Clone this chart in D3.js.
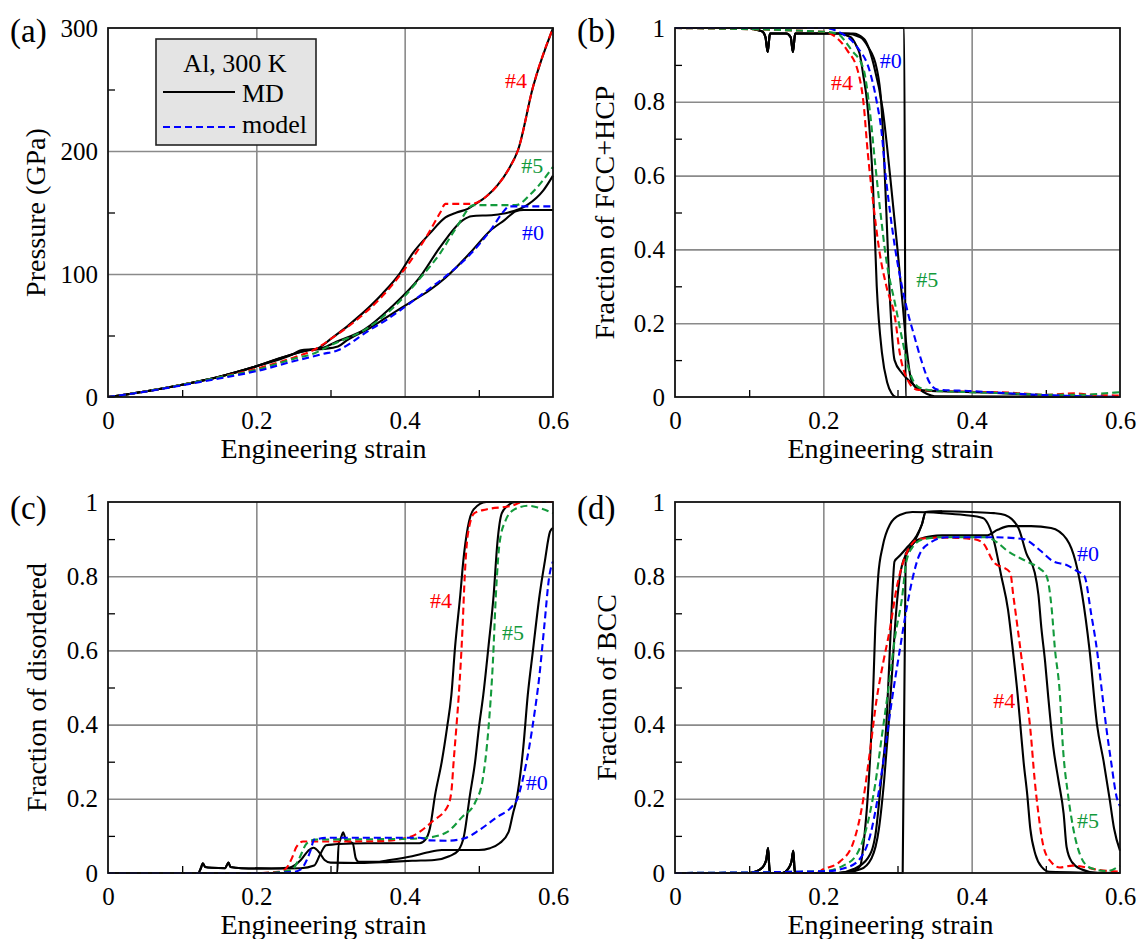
<!DOCTYPE html>
<html><head><meta charset="utf-8">
<script src="https://cdn.jsdelivr.net/npm/d3@7"></script>
<style>
body{margin:0;background:#fff}
svg{display:block}
text{font-family:'Liberation Serif','Times New Roman',serif;fill:#000}
</style></head><body>
<svg id="chart" width="1138" height="939" font-family="Liberation Serif, Times New Roman, serif"></svg>
<script>
// ---------- tick values & labels ----------
const strainTicks = [0, 0.2, 0.4, 0.6];
const strainTickLabels = ["0", "0.2", "0.4", "0.6"];
const strainMinor = [0.1, 0.3, 0.5];
const pressureTicks = [0, 100, 200, 300];
const pressureTickLabels = ["0", "100", "200", "300"];
const pressureMinor = [50, 150, 250];
const fracTicks = [0, 0.2, 0.4, 0.6, 0.8, 1];
const fracTickLabels = ["0", "0.2", "0.4", "0.6", "0.8", "1"];
const fracMinor = [0.1, 0.3, 0.5, 0.7, 0.9];

// ---------- (a) pressure ----------
const aMD4 = [[0,0],[0.05,4.5],[0.1,10],[0.15,16.5],[0.2,25],[0.25,35],[0.26,38],[0.28,39],[0.3,47],[0.343,68],[0.37,84],[0.394,101],[0.411,117],[0.434,133],[0.455,146],[0.47,150],[0.485,153],[0.493,156],[0.51,163],[0.525,172],[0.54,185],[0.553,201],[0.573,252],[0.6,300]];
const aModel4 = [[0,0],[0.05,4.5],[0.1,10],[0.15,16],[0.2,23],[0.25,32],[0.28,39],[0.3,47],[0.34,65],[0.37,82],[0.4,104],[0.43,131],[0.448,150],[0.455,157],[0.49,157],[0.51,163],[0.525,172],[0.54,185],[0.553,201],[0.573,252],[0.6,300]];
const aMD5 = [[0,0],[0.05,4.5],[0.1,10],[0.15,16.5],[0.2,25],[0.25,35],[0.27,38],[0.29,40],[0.308,45],[0.346,55],[0.38,72],[0.42,97],[0.448,122],[0.479,144],[0.49,147],[0.52,148],[0.54,150],[0.565,156],[0.587,168],[0.6,180]];
const aModel5 = [[0,0],[0.05,4.5],[0.1,10],[0.15,16],[0.2,22],[0.25,31],[0.28,36],[0.3,42],[0.35,56],[0.4,82],[0.42,96],[0.448,117],[0.47,138],[0.493,156],[0.55,156],[0.57,165],[0.6,187]];
const aMD0 = [[0,0],[0.05,4.5],[0.1,10],[0.15,16.5],[0.2,25],[0.25,35],[0.27,38],[0.29,39],[0.31,41],[0.322,46],[0.35,55],[0.376,65],[0.405,76],[0.434,87],[0.455,97],[0.488,117],[0.515,135],[0.535,144],[0.55,151],[0.56,152],[0.6,152]];
const aModel0 = [[0,0],[0.05,4.3],[0.1,9.5],[0.15,15],[0.2,21],[0.25,29],[0.29,35],[0.31,38],[0.33,45],[0.344,51],[0.376,63],[0.431,87],[0.455,98],[0.49,117],[0.515,135],[0.535,152],[0.54,155],[0.6,155]];

// ---------- (b) fraction FCC+HCP ----------
const bMD4 = [[0,1],[0.1,1],[0.11,0.995],[0.118,0.99],[0.122,0.975],[0.125,0.935],[0.1265,0.96],[0.128,0.985],[0.15,0.985],[0.156,0.975],[0.159,0.935],[0.1605,0.96],[0.162,0.985],[0.22,0.985],[0.237,0.975],[0.245,0.95],[0.249,0.93],[0.254,0.87],[0.259,0.8],[0.267,0.57],[0.272,0.3],[0.279,0.12],[0.286,0.04],[0.292,0.01],[0.298,0],[0.6,0]];
const bMD5 = [[0,1],[0.1,1],[0.11,0.995],[0.118,0.99],[0.122,0.975],[0.125,0.935],[0.1265,0.96],[0.128,0.985],[0.15,0.985],[0.156,0.975],[0.159,0.935],[0.1605,0.96],[0.162,0.985],[0.23,0.985],[0.25,0.975],[0.26,0.95],[0.272,0.89],[0.278,0.8],[0.285,0.5],[0.289,0.3],[0.296,0.1],[0.306,0.065],[0.318,0.04],[0.33,0.02],[0.34,0.008],[0.35,0.002],[0.6,0]];
const bMD0 = [[0,1],[0.1,1],[0.11,0.995],[0.118,0.99],[0.122,0.975],[0.125,0.935],[0.1265,0.96],[0.128,0.985],[0.15,0.985],[0.156,0.975],[0.159,0.935],[0.1605,0.96],[0.162,0.985],[0.24,0.985],[0.255,0.97],[0.268,0.9],[0.28,0.78],[0.29,0.6],[0.3,0.4],[0.307,0.25],[0.313,0.12],[0.318,0.05],[0.325,0.025],[0.335,0.018],[0.37,0.015],[0.42,0.012],[0.46,0.008],[0.5,0.004],[0.55,0.001],[0.6,0]];
const bMDp = [[0,1],[0.309,1],[0.311,0],[0.6,0]];
const bModel4 = [[0,1],[0.2,0.99],[0.209,0.985],[0.232,0.94],[0.247,0.88],[0.254,0.8],[0.26,0.66],[0.267,0.53],[0.276,0.39],[0.285,0.3],[0.297,0.21],[0.303,0.12],[0.314,0.045],[0.326,0.02],[0.35,0.017],[0.4,0.014],[0.45,0.012],[0.5,0.006],[0.54,0.01],[0.56,0.006],[0.6,0.004]];
const bModel5 = [[0,1],[0.2,0.99],[0.218,0.985],[0.238,0.94],[0.254,0.89],[0.263,0.77],[0.27,0.63],[0.277,0.5],[0.285,0.37],[0.297,0.25],[0.307,0.15],[0.316,0.07],[0.33,0.025],[0.35,0.017],[0.4,0.013],[0.45,0.01],[0.5,0.006],[0.55,0.006],[0.58,0.01],[0.6,0.013]];
const bModel0 = [[0,1],[0.2,1],[0.225,0.985],[0.245,0.95],[0.263,0.88],[0.272,0.8],[0.279,0.71],[0.283,0.62],[0.29,0.5],[0.297,0.4],[0.306,0.3],[0.315,0.22],[0.322,0.17],[0.332,0.1],[0.343,0.04],[0.354,0.02],[0.4,0.016],[0.45,0.01],[0.5,0.005],[0.55,0.002],[0.6,0]];

// ---------- (c) fraction disordered ----------
const cMD5 = [[0,0],[0.122,0],[0.125,0.012],[0.128,0.026],[0.131,0.016],[0.14,0.014],[0.158,0.013],[0.16,0.02],[0.1625,0.028],[0.165,0.016],[0.18,0.013],[0.22,0.012],[0.245,0.015],[0.26,0.035],[0.27,0.06],[0.277,0.068],[0.285,0.055],[0.292,0.035],[0.3,0.028],[0.34,0.027],[0.38,0.03],[0.41,0.033],[0.44,0.035],[0.46,0.045],[0.472,0.06],[0.48,0.1],[0.488,0.21],[0.495,0.3],[0.5,0.39],[0.506,0.48],[0.513,0.61],[0.52,0.75],[0.525,0.89],[0.531,0.97],[0.539,0.99],[0.55,1],[0.6,1]];
const cMD0 = [[0,0],[0.122,0],[0.125,0.012],[0.128,0.026],[0.131,0.016],[0.14,0.014],[0.158,0.013],[0.16,0.02],[0.1625,0.028],[0.165,0.016],[0.18,0.013],[0.22,0.012],[0.26,0.013],[0.278,0.02],[0.286,0.05],[0.294,0.075],[0.31,0.078],[0.315,0.1],[0.317,0.11],[0.321,0.088],[0.33,0.08],[0.334,0.04],[0.338,0.03],[0.36,0.03],[0.38,0.035],[0.41,0.045],[0.43,0.055],[0.45,0.062],[0.5,0.062],[0.515,0.067],[0.528,0.08],[0.54,0.11],[0.546,0.16],[0.551,0.2],[0.56,0.34],[0.566,0.48],[0.573,0.6],[0.582,0.75],[0.589,0.84],[0.596,0.92],[0.6,0.93]];
const cMD4 = [[0,0],[0.309,0],[0.311,0.078],[0.35,0.08],[0.42,0.08],[0.428,0.09],[0.434,0.12],[0.441,0.21],[0.45,0.3],[0.457,0.39],[0.463,0.48],[0.468,0.61],[0.475,0.75],[0.479,0.84],[0.485,0.93],[0.493,0.98],[0.51,1],[0.6,1]];
const cModel4 = [[0,0],[0.2,0],[0.23,0.003],[0.239,0.01],[0.248,0.04],[0.254,0.07],[0.263,0.085],[0.3,0.085],[0.368,0.086],[0.39,0.09],[0.411,0.1],[0.438,0.14],[0.458,0.18],[0.463,0.22],[0.466,0.3],[0.47,0.4],[0.473,0.48],[0.478,0.66],[0.481,0.8],[0.485,0.91],[0.494,0.97],[0.51,0.98],[0.545,0.99],[0.56,1],[0.6,1]];
const cModel5 = [[0,0],[0.21,0],[0.24,0.005],[0.249,0.01],[0.258,0.04],[0.268,0.08],[0.28,0.09],[0.4,0.092],[0.43,0.095],[0.457,0.11],[0.477,0.15],[0.495,0.19],[0.505,0.25],[0.513,0.39],[0.519,0.57],[0.523,0.75],[0.528,0.89],[0.536,0.95],[0.548,0.98],[0.567,0.99],[0.58,0.985],[0.6,0.97]];
const cModel0 = [[0,0],[0.22,0],[0.25,0.003],[0.26,0.01],[0.268,0.035],[0.273,0.06],[0.278,0.09],[0.3,0.095],[0.42,0.095],[0.434,0.088],[0.457,0.087],[0.48,0.093],[0.5,0.115],[0.524,0.15],[0.545,0.18],[0.552,0.2],[0.559,0.25],[0.568,0.34],[0.575,0.43],[0.581,0.52],[0.588,0.66],[0.595,0.8],[0.6,0.84]];

// ---------- (d) fraction BCC ----------
const dMD4 = [[0,0],[0.1,0],[0.11,0.005],[0.118,0.015],[0.123,0.035],[0.1255,0.067],[0.127,0.02],[0.128,0],[0.145,0],[0.152,0.01],[0.157,0.03],[0.1595,0.06],[0.161,0.015],[0.162,0],[0.22,0],[0.24,0.005],[0.25,0.02],[0.254,0.075],[0.26,0.21],[0.264,0.345],[0.267,0.48],[0.27,0.66],[0.274,0.8],[0.28,0.88],[0.29,0.94],[0.303,0.965],[0.32,0.973],[0.36,0.97],[0.39,0.965],[0.415,0.957],[0.429,0.903],[0.44,0.8],[0.449,0.71],[0.455,0.61],[0.462,0.48],[0.466,0.39],[0.47,0.3],[0.475,0.21],[0.479,0.12],[0.486,0.05],[0.495,0.015],[0.505,0.003],[0.6,0]];
const dMD5 = [[0,0],[0.1,0],[0.11,0.005],[0.118,0.015],[0.123,0.035],[0.1255,0.067],[0.127,0.02],[0.128,0],[0.145,0],[0.152,0.01],[0.157,0.03],[0.1595,0.06],[0.161,0.015],[0.162,0],[0.22,0],[0.24,0.01],[0.26,0.04],[0.27,0.1],[0.278,0.25],[0.285,0.4],[0.289,0.57],[0.293,0.75],[0.296,0.84],[0.303,0.855],[0.314,0.88],[0.326,0.91],[0.333,0.94],[0.338,0.973],[0.36,0.975],[0.4,0.973],[0.43,0.97],[0.445,0.965],[0.463,0.93],[0.474,0.86],[0.485,0.81],[0.49,0.75],[0.494,0.66],[0.499,0.57],[0.503,0.48],[0.51,0.34],[0.517,0.25],[0.524,0.16],[0.528,0.07],[0.535,0.03],[0.548,0.01],[0.57,0],[0.6,0]];
const dMD0 = [[0,0],[0.1,0],[0.11,0.005],[0.118,0.015],[0.123,0.035],[0.1255,0.067],[0.127,0.02],[0.128,0],[0.145,0],[0.152,0.01],[0.157,0.03],[0.1595,0.06],[0.161,0.015],[0.162,0],[0.22,0],[0.25,0.01],[0.265,0.04],[0.275,0.12],[0.282,0.25],[0.288,0.4],[0.293,0.55],[0.298,0.7],[0.305,0.82],[0.315,0.87],[0.33,0.9],[0.36,0.91],[0.42,0.91],[0.435,0.925],[0.45,0.935],[0.48,0.935],[0.507,0.93],[0.528,0.9],[0.54,0.84],[0.549,0.75],[0.559,0.6],[0.569,0.4],[0.578,0.3],[0.586,0.2],[0.592,0.12],[0.6,0.06]];
const dMDp = [[0,0],[0.307,0],[0.311,0.86],[0.322,0.89],[0.333,0.94],[0.338,0.973],[0.36,0.975]];
const dModel4 = [[0,0],[0.19,0],[0.2,0.01],[0.222,0.03],[0.24,0.08],[0.254,0.2],[0.263,0.33],[0.272,0.47],[0.281,0.57],[0.29,0.66],[0.299,0.77],[0.308,0.84],[0.317,0.88],[0.328,0.9],[0.36,0.904],[0.402,0.9],[0.415,0.89],[0.429,0.84],[0.452,0.81],[0.456,0.75],[0.462,0.66],[0.471,0.52],[0.479,0.39],[0.485,0.25],[0.49,0.16],[0.497,0.07],[0.507,0.03],[0.519,0.015],[0.536,0.02],[0.554,0.015],[0.572,0.008],[0.6,0.004]];
const dModel5 = [[0,0],[0.2,0.005],[0.227,0.02],[0.245,0.05],[0.258,0.12],[0.27,0.24],[0.279,0.37],[0.288,0.5],[0.297,0.64],[0.306,0.74],[0.312,0.84],[0.321,0.88],[0.335,0.9],[0.36,0.905],[0.42,0.905],[0.435,0.89],[0.447,0.87],[0.474,0.84],[0.492,0.82],[0.501,0.8],[0.508,0.71],[0.512,0.61],[0.519,0.48],[0.523,0.34],[0.53,0.21],[0.537,0.12],[0.546,0.05],[0.559,0.015],[0.582,0.005],[0.6,0.02]];
const dModel0 = [[0,0],[0.205,0.005],[0.232,0.015],[0.25,0.04],[0.263,0.1],[0.274,0.21],[0.283,0.33],[0.292,0.46],[0.303,0.6],[0.312,0.71],[0.321,0.8],[0.33,0.86],[0.344,0.89],[0.366,0.905],[0.43,0.905],[0.47,0.9],[0.492,0.87],[0.51,0.84],[0.528,0.83],[0.541,0.815],[0.552,0.8],[0.561,0.7],[0.569,0.6],[0.575,0.5],[0.581,0.4],[0.588,0.3],[0.596,0.2],[0.6,0.18]];

// ---------- series labels (data coordinates) ----------
const aLabels = [["#4",0.55,251,"red"],["#5",0.572,182,"green"],["#0",0.573,128,"blue"]];
const bLabels = [["#0",0.291,0.892,"blue"],["#4",0.225,0.832,"red"],["#5",0.34,0.298,"green"]];
const cLabels = [["#4",0.449,0.714,"red"],["#5",0.546,0.628,"green"],["#0",0.578,0.224,"blue"]];
const dLabels = [["#0",0.557,0.841,"blue"],["#4",0.444,0.445,"red"],["#5",0.557,0.121,"green"]];

// ---------- styles ----------
const FONT = "'Liberation Serif', 'Times New Roman', serif";
const COL = {black:"#000", red:"#ff0000", green:"#139a3c", blue:"#0000ff"};
const DASH = "7,4";

const panels = [
  {tag:"(a)", left:108, top:28, width:445, height:369, yDomain:[0,300], yTicks:pressureTicks, yLabels:pressureTickLabels, yMinor:pressureMinor, yTitle:"Pressure (GPa)", yTitleX:45, tagX:10, tagY:42,
   md:[aMD4,aMD5,aMD0], model:[[aModel4,"red"],[aModel5,"green"],[aModel0,"blue"]], labels:aLabels},
  {tag:"(b)", left:675, top:28, width:445, height:369, yDomain:[0,1], yTicks:fracTicks, yLabels:fracTickLabels, yMinor:fracMinor, yTitle:"Fraction of FCC+HCP", yTitleX:614, tagX:577, tagY:42,
   md:[bMDp,bMD4,bMD5,bMD0], model:[[bModel4,"red"],[bModel5,"green"],[bModel0,"blue"]], labels:bLabels},
  {tag:"(c)", left:108, top:502, width:445, height:371, yDomain:[0,1], yTicks:fracTicks, yLabels:fracTickLabels, yMinor:fracMinor, yTitle:"Fraction of disordered", yTitleX:46, tagX:10, tagY:519,
   md:[cMD4,cMD5,cMD0], model:[[cModel4,"red"],[cModel5,"green"],[cModel0,"blue"]], labels:cLabels},
  {tag:"(d)", left:675, top:502, width:445, height:371, yDomain:[0,1], yTicks:fracTicks, yLabels:fracTickLabels, yMinor:fracMinor, yTitle:"Fraction of BCC", yTitleX:616, tagX:577, tagY:519,
   md:[dMDp,dMD4,dMD5,dMD0], model:[[dModel4,"red"],[dModel5,"green"],[dModel0,"blue"]], labels:dLabels}
];

const svg = d3.select("#chart");
svg.append("rect").attr("width",1138).attr("height",939).attr("fill","#fff");

function txt(sel, size) {
  return sel.attr("font-family", FONT).style("font-family", FONT).style("font-size", size + "px");
}

panels.forEach((p,pi) => {
  const x = d3.scaleLinear().domain([0,0.6]).range([p.left, p.left+p.width]);
  const y = d3.scaleLinear().domain(p.yDomain).range([p.top+p.height, p.top]);
  const g = svg.append("g");

  // grid
  const gx = g.append("g").attr("transform",`translate(0,${p.top+p.height})`)
    .call(d3.axisBottom(x).tickValues(strainTicks.slice(1,-1)).tickSize(-p.height).tickFormat(""));
  gx.select(".domain").remove();
  gx.selectAll("line").attr("stroke","#8a8a8a").attr("stroke-width",1.6);
  const gy = g.append("g").attr("transform",`translate(${p.left},0)`)
    .call(d3.axisLeft(y).tickValues(p.yTicks.slice(1,-1)).tickSize(-p.width).tickFormat(""));
  gy.select(".domain").remove();
  gy.selectAll("line").attr("stroke","#8a8a8a").attr("stroke-width",1.6);

  // minor inward ticks
  const mx = g.append("g").attr("transform",`translate(0,${p.top+p.height})`)
    .call(d3.axisBottom(x).tickValues(strainMinor).tickSize(-7).tickFormat(""));
  mx.select(".domain").remove();
  mx.selectAll("line").attr("stroke","#000").attr("stroke-width",1.3);
  const my = g.append("g").attr("transform",`translate(${p.left},0)`)
    .call(d3.axisLeft(y).tickValues(p.yMinor).tickSize(-7).tickFormat(""));
  my.select(".domain").remove();
  my.selectAll("line").attr("stroke","#000").attr("stroke-width",1.3);

  // tick labels
  const lx = g.append("g").attr("transform",`translate(0,${p.top+p.height})`)
    .call(d3.axisBottom(x).tickValues(strainTicks).tickSize(0).tickPadding(14).tickFormat((d,i)=>strainTickLabels[i]));
  lx.select(".domain").remove();
  lx.attr("font-family",FONT).attr("font-size",25);
  txt(lx.selectAll("text"), 25).attr("fill","#000");
  const ly = g.append("g").attr("transform",`translate(${p.left},0)`)
    .call(d3.axisLeft(y).tickValues(p.yTicks).tickSize(0).tickPadding(10).tickFormat((d,i)=>p.yLabels[i]));
  ly.select(".domain").remove();
  ly.attr("font-family",FONT).attr("font-size",25);
  txt(ly.selectAll("text"), 25).attr("fill","#000");

  // clip
  const cid = "clip"+pi;
  svg.append("clipPath").attr("id",cid).append("rect")
    .attr("x",p.left-2).attr("y",p.top-2).attr("width",p.width+4).attr("height",p.height+4);
  const plot = g.append("g").attr("clip-path",`url(#${cid})`);
  const line = d3.line().x(d=>x(d[0])).y(d=>y(d[1])).curve(d3.curveMonotoneX);

  p.md.forEach(s => {
    plot.append("path").attr("d",line(s)).attr("fill","none")
      .attr("stroke",COL.black).attr("stroke-width",2.1).attr("stroke-linejoin","round");
  });
  p.model.forEach(([s,c]) => {
    plot.append("path").attr("d",line(s)).attr("fill","none")
      .attr("stroke",COL[c]).attr("stroke-width",2.1).attr("stroke-dasharray",DASH);
  });

  // frame
  g.append("rect").attr("x",p.left).attr("y",p.top).attr("width",p.width).attr("height",p.height)
    .attr("fill","none").attr("stroke","#111").attr("stroke-width",1.8);

  // series labels
  p.labels.forEach(([t,sx,sy,c]) => {
    txt(g.append("text"), 22).attr("x",x(sx)).attr("y",y(sy)).attr("text-anchor","middle")
      .style("fill",COL[c]).text(t);
  });

  // axis titles
  txt(g.append("text"), 28).attr("x",p.left+p.width/2-7).attr("y",p.top+p.height+61)
    .attr("text-anchor","middle").text("Engineering strain");
  txt(g.append("text"), 28).attr("transform",`translate(${p.yTitleX},${p.top+p.height/2}) rotate(-90)`)
    .attr("text-anchor","middle").text(p.yTitle);

  // panel tag
  txt(g.append("text"), 33).attr("x",p.tagX).attr("y",p.tagY).text(p.tag);
});

// legend in (a)
const leg = svg.append("g");
leg.append("rect").attr("x",156).attr("y",39).attr("width",160).attr("height",106)
  .attr("fill","#e4e4e4").attr("stroke","#222").attr("stroke-width",1.6);
txt(leg.append("text"), 26).attr("x",235).attr("y",72).attr("text-anchor","middle").text("Al, 300 K");
leg.append("line").attr("x1",163).attr("x2",235).attr("y1",92).attr("y2",92).attr("stroke","#000").attr("stroke-width",2.1);
txt(leg.append("text"), 26).attr("x",242).attr("y",102).text("MD");
leg.append("line").attr("x1",163).attr("x2",235).attr("y1",127).attr("y2",127).attr("stroke",COL.blue).attr("stroke-width",2.1).attr("stroke-dasharray",DASH);
txt(leg.append("text"), 26).attr("x",242).attr("y",133).text("model");
</script>
</body></html>
